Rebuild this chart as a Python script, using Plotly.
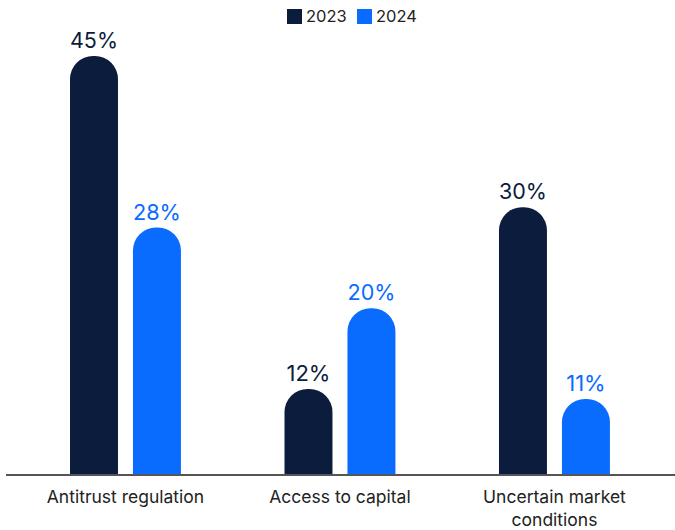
import plotly.graph_objects as go

# Share of respondents citing each factor, by survey year
categories = ["Antitrust regulation", "Access to capital", "Uncertain market<br>conditions"]
years = ["2023", "2024"]
values_2023 = [45, 12, 30]
values_2024 = [28, 20, 11]

NAVY = "#0B1C3D"
BLUE = "#0A6CFF"
FONT = "Inter"
TEXT = "#222222"

fig = go.Figure()
for name, vals, color in [(years[0], values_2023, NAVY), (years[1], values_2024, BLUE)]:
    fig.add_trace(go.Bar(
        name=name,
        x=categories,
        y=vals,
        marker=dict(color=color, line=dict(width=0)),
        texttemplate="%{y}%",
        textposition="outside",
        textfont=dict(family=FONT, size=22, color=color),
        cliponaxis=False,
        hoverinfo="skip",
        showlegend=False,
    ))

# Plot area in pixels: left 6, right 675, top 40, bottom 474
L, R, T, B = 6, 675, 40, 474


def px_x(px):
    return (px - L) / (R - L)


def px_y(py):
    return (B - py) / (B - T)


# Custom legend: square swatch followed by the year, centred above the plot
legend_items = [(years[0], NAVY, 287), (years[1], BLUE, 357)]
for label, color, x0 in legend_items:
    fig.add_shape(
        type="rect", xref="paper", yref="paper",
        x0=px_x(x0), x1=px_x(x0 + 15), y0=px_y(24), y1=px_y(9),
        fillcolor=color, line=dict(width=0),
    )
    fig.add_annotation(
        xref="paper", yref="paper",
        x=px_x(x0 + 17), y=px_y(16.5),
        xanchor="left", yanchor="middle",
        text=label, showarrow=False,
        font=dict(family=FONT, size=16.5, color=TEXT),
    )

fig.update_layout(
    width=675,
    height=530,
    margin=dict(l=L, r=675 - R, t=T, b=530 - B),
    paper_bgcolor="white",
    plot_bgcolor="white",
    barmode="group",
    bargap=0.413,
    bargroupgap=0.238,
    barcornerradius="50%",
    font=dict(family=FONT, color=TEXT),
    showlegend=False,
    xaxis=dict(
        range=[-0.557, 2.562],
        showline=True, linecolor="#555555", linewidth=2,
        ticks="", showgrid=False, zeroline=False,
        ticklabelstandoff=6,
        tickfont=dict(family=FONT, size=17.5, color=TEXT),
    ),
    yaxis=dict(
        range=[3.57, 46.58],
        visible=False, showgrid=False, zeroline=False,
    ),
)

fig.write_html("out.html")
